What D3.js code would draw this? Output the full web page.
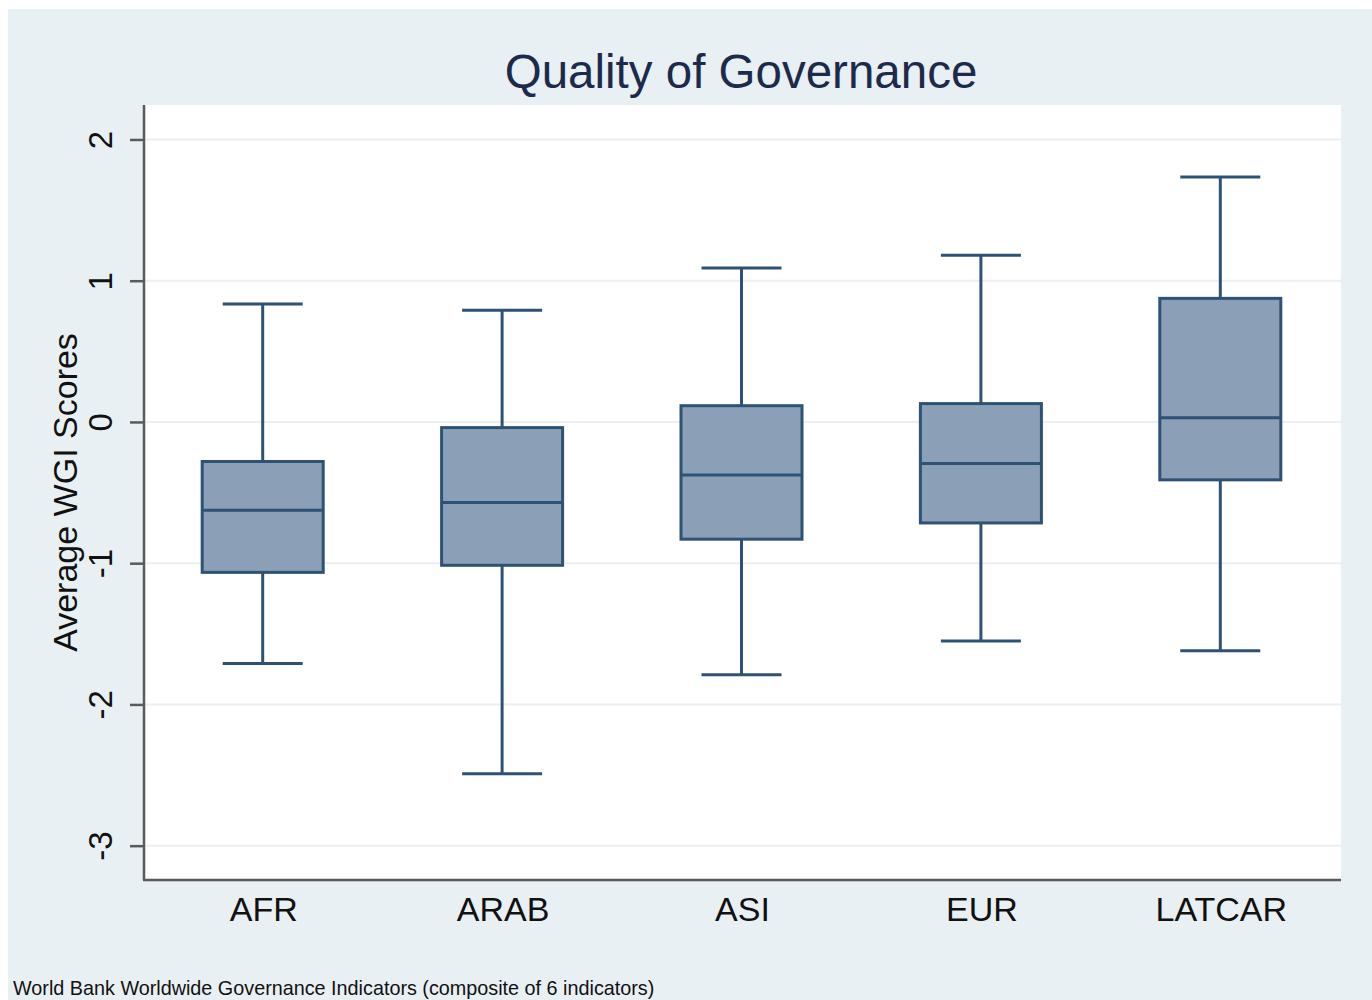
<!DOCTYPE html>
<html>
<head>
<meta charset="utf-8">
<script src="https://cdn.jsdelivr.net/npm/d3@7"></script>
<style>
  html, body { margin: 0; padding: 0; background: #ffffff; }
  svg { display: block; }
</style>
</head>
<body>
<svg id="chart" width="1372" height="1000"></svg>
<script>
// ---- data ----
const categories = ["AFR", "ARAB", "ASI", "EUR", "LATCAR"];
const whiskerLow  = [-1.71, -2.49, -1.79, -1.55, -1.62];
const q1          = [-1.065, -1.015, -0.83, -0.715, -0.41];
const median      = [-0.625, -0.57, -0.375, -0.295, 0.03];
const q3          = [-0.28, -0.04, 0.115, 0.13, 0.875];
const whiskerHigh = [0.835, 0.79, 1.09, 1.18, 1.735];
const yTicks = [-3, -2, -1, 0, 1, 2];
const titleText = "Quality of Governance";
const yTitle = "Average WGI Scores";
const noteText = "World Bank Worldwide Governance Indicators (composite of 6 indicators)";

const svg = d3.select("#chart");
const W = 1372, H = 1000;
const plot = { left: 144, right: 1341, top: 105, bottom: 880 };
const FONT = "Liberation Sans, Arial, Helvetica, sans-serif";

// background
svg.append("rect").attr("x", 8).attr("y", 9).attr("width", W - 8).attr("height", H - 9)
  .attr("fill", "#e9f0f3");
svg.append("rect").attr("x", plot.left).attr("y", plot.top)
  .attr("width", plot.right - plot.left).attr("height", plot.bottom - plot.top)
  .attr("fill", "#ffffff");

const x = d3.scaleBand().domain(categories).range([plot.left, plot.right]).padding(0);
const y = d3.scaleLinear().domain([-3.243, 2.244]).range([plot.bottom, plot.top]);

// gridlines
svg.append("g").selectAll("line").data(yTicks).join("line")
  .attr("x1", plot.left).attr("x2", plot.right)
  .attr("y1", d => y(d)).attr("y2", d => y(d))
  .attr("stroke", "#eaeff1").attr("stroke-width", 2);

// y axis
const yAxis = d3.axisLeft(y).tickValues(yTicks).tickSize(14).tickSizeOuter(0)
  .tickFormat(d => String(d));
const gy = svg.append("g").attr("transform", `translate(${plot.left},0)`).call(yAxis);
gy.select(".domain").attr("stroke", "#5a5a5a").attr("stroke-width", 2.5)
  .attr("d", `M0,${plot.top}V${plot.bottom}`);
gy.selectAll(".tick line").attr("stroke", "#5a5a5a").attr("stroke-width", 2.5);
gy.selectAll(".tick text")
  .attr("font-family", FONT)
  .attr("font-size", 33).attr("fill", "#111")
  .attr("text-anchor", "middle")
  .attr("dy", 0)
  .attr("transform", `translate(-32,0) rotate(-90)`)
  .attr("x", 0).attr("y", 0);

// x axis
const xAxis = d3.axisBottom(x).tickSize(0).tickPadding(17);
const gx = svg.append("g").attr("transform", `translate(0,${plot.bottom})`).call(xAxis);
gx.select(".domain").attr("stroke", "#5a5a5a").attr("stroke-width", 2.5)
  .attr("d", `M${plot.left - 1},0H${plot.right}`);
gx.selectAll(".tick text")
  .attr("font-family", FONT)
  .attr("font-size", 34).attr("fill", "#111");

// boxes
const boxColor = "#8ba0b6", strokeColor = "#2e5276";
const boxW = 121, capW = 80;
const data = categories.map((c, i) => ({
  c, lo: whiskerLow[i], q1: q1[i], med: median[i], q3: q3[i], hi: whiskerHigh[i]
}));
const g = svg.append("g").selectAll("g").data(data).join("g")
  .attr("transform", d => `translate(${x(d.c) + x.bandwidth() / 2 - 1},0)`);

g.append("line").attr("x1", 0).attr("x2", 0)
  .attr("y1", d => y(d.hi)).attr("y2", d => y(d.q3))
  .attr("stroke", strokeColor).attr("stroke-width", 3);
g.append("line").attr("x1", 0).attr("x2", 0)
  .attr("y1", d => y(d.q1)).attr("y2", d => y(d.lo))
  .attr("stroke", strokeColor).attr("stroke-width", 3);
g.append("line").attr("x1", -capW / 2).attr("x2", capW / 2)
  .attr("y1", d => y(d.hi)).attr("y2", d => y(d.hi))
  .attr("stroke", strokeColor).attr("stroke-width", 3);
g.append("line").attr("x1", -capW / 2).attr("x2", capW / 2)
  .attr("y1", d => y(d.lo)).attr("y2", d => y(d.lo))
  .attr("stroke", strokeColor).attr("stroke-width", 3);
g.append("rect").attr("x", -boxW / 2).attr("width", boxW)
  .attr("y", d => y(d.q3)).attr("height", d => y(d.q1) - y(d.q3))
  .attr("fill", boxColor).attr("stroke", strokeColor).attr("stroke-width", 3);
g.append("line").attr("x1", -boxW / 2).attr("x2", boxW / 2)
  .attr("y1", d => y(d.med)).attr("y2", d => y(d.med))
  .attr("stroke", strokeColor).attr("stroke-width", 3);

// title
svg.append("text").attr("x", 741).attr("y", 88).attr("text-anchor", "middle")
  .attr("font-family", FONT)
  .attr("font-size", 47.5).attr("fill", "#1c2a4c").text(titleText);

// y title
svg.append("text").attr("transform", `translate(77,${(plot.top + plot.bottom) / 2}) rotate(-90)`)
  .attr("text-anchor", "middle")
  .attr("font-family", FONT)
  .attr("font-size", 34).attr("fill", "#111").text(yTitle);

// note
svg.append("text").attr("x", 13).attr("y", 995)
  .attr("font-family", FONT)
  .attr("font-size", 19.8).attr("fill", "#111").text(noteText);
</script>
</body>
</html>
